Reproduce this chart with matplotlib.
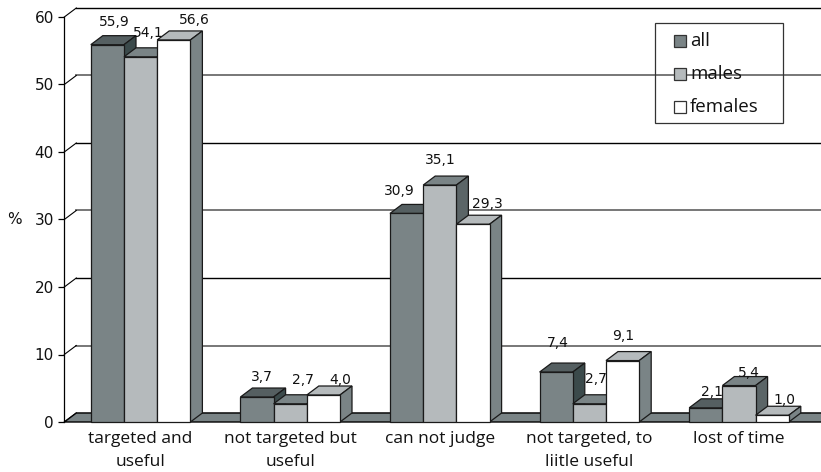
import matplotlib
matplotlib.use("Agg")
import matplotlib.pyplot as plt
from matplotlib.patches import Rectangle

# --- Survey results (%) ---
categories = ["targeted and\nuseful", "not targeted but\nuseful", "can not judge",
              "not targeted, to\nliitle useful", "lost of time"]
series_names = ["all", "males", "females"]
all_values = [55.9, 3.7, 30.9, 7.4, 2.1]
male_values = [54.1, 2.7, 35.1, 2.7, 5.4]
female_values = [56.6, 4.0, 29.3, 9.1, 1.0]
y_ticks = [0, 10, 20, 30, 40, 50, 60]

# face, top and side shades per series
faces = ["#7a8486", "#b5babc", "#ffffff"]
tops = ["#555f61", "#7a8486", "#b5babc"]
sides = ["#3b4a4b", "#5b6567", "#7a8486"]
grid_colors = ["#000000", "#777777", "#000000", "#777777", "#000000", "#777777", "#000000"]

# pixel nudges for the value labels, one row per series
label_nudge = [
    [(7, 23), (5, 20), (-7, 22), (2, 29), (6, 16)],
    [(8, 24), (13, 24), (1, 25), (7, 25), (10, 13)],
    [(21, 20), (17, 15), (14, 20), (1, 25), (12, 15)],
]

W, H = 821, 472
DEPTH_X = 12 / 149.6
DEPTH_Y = 9 / 6.75
BAR_W = 33.2 / 149.6


def fx(px):
    return px / W


def fy(py):
    return 1 - py / H


fig = plt.figure(figsize=(W / 100, H / 100), dpi=100)
ax = fig.add_axes([fx(64.3), fy(422), 748 / W, 405 / H])
ax.set_xlim(0, 5)
ax.set_ylim(0, 60)
ax.patch.set_visible(False)

for side in ["top", "right", "bottom"]:
    ax.spines[side].set_visible(False)
ax.spines["left"].set_linewidth(0.9)
ax.spines["left"].set_zorder(1)

# --- Back wall gridlines and the slanted wall edges ---
for tick, color in zip(y_ticks, grid_colors):
    lw = 1.4 if color != "#000000" else 1.0
    ax.plot([DEPTH_X, 5.2], [tick + DEPTH_Y] * 2, color=color, lw=lw, clip_on=False, zorder=1)
    ax.plot([0, DEPTH_X], [tick, tick + DEPTH_Y], color="black", lw=0.8, clip_on=False, zorder=1)

# --- Floor ---
ax.fill([0, DEPTH_X, 5.2, 5.2 - DEPTH_X], [0, DEPTH_Y, DEPTH_Y, 0], facecolor=faces[0],
        edgecolor="black", lw=1.0, clip_on=False, zorder=2)

# --- Bars with their top and side faces, drawn left to right ---
all_series = [all_values, male_values, female_values]
zorder = 3
for g in range(len(categories)):
    center = g + 0.51
    for s, values in enumerate(all_series):
        v = values[g]
        x0 = center + (s - 1.5) * BAR_W
        x1 = x0 + BAR_W
        ax.fill([x0, x0 + DEPTH_X, x1 + DEPTH_X, x1], [v, v + DEPTH_Y, v + DEPTH_Y, v],
                facecolor=tops[s], edgecolor="#1a1a1a", lw=0.9, clip_on=False, zorder=zorder)
        ax.fill([x1, x1 + DEPTH_X, x1 + DEPTH_X, x1], [0, DEPTH_Y, v + DEPTH_Y, v],
                facecolor=sides[s], edgecolor="#1a1a1a", lw=0.9, clip_on=False, zorder=zorder)
        ax.bar(x0, v, BAR_W, align="edge", color=faces[s], edgecolor="#1a1a1a", lw=0.9,
               clip_on=False, zorder=zorder + 1)
        zorder += 2

# --- Value labels ---
for s, values in enumerate(all_series):
    for g, v in enumerate(values):
        x = g + 0.51 + (s - 1) * BAR_W
        ax.annotate(f"{v:.1f}".replace(".", ","), (x, v), xytext=label_nudge[s][g],
                    textcoords="offset pixels", ha="center", va="center",
                    fontsize=10, color="#111111", zorder=100, annotation_clip=False)

# --- Axes ticks and labels ---
ax.set_yticks(y_ticks)
ax.tick_params(axis="y", length=4.5, width=0.9, pad=3, labelsize=11, labelcolor="#111111")
ax.set_xticks([g + 0.51 for g in range(len(categories))])
ax.set_xticklabels(categories, fontfamily="Open Sans", fontsize=12.5, linespacing=1.58,
                   color="#111111")
ax.tick_params(axis="x", length=0, pad=6.5)
ax.set_ylabel("%", rotation=0, fontsize=11, color="#111111", labelpad=0, va="center")
ax.yaxis.set_label_coords(-0.0665, 0.5, transform=ax.transAxes)

# --- Legend box, gridline stays visible through it ---
fig.add_artist(Rectangle((fx(654.5), fy(123)), 128.5 / W, 100 / H, transform=fig.transFigure,
                         facecolor="none", edgecolor="#333333", lw=0.9, zorder=200))
for name, face, py in zip(series_names, faces, [41, 74, 107]):
    fig.add_artist(Rectangle((fx(674), fy(py + 6)), 12 / W, 12 / H, transform=fig.transFigure,
                             facecolor=face, edgecolor="#333333", lw=0.9, zorder=200))
    fig.text(fx(690), fy(py), name, fontfamily="Open Sans", fontsize=13.5, color="#111111",
             ha="left", va="center", zorder=200)

fig.savefig("out.png", dpi=100)
